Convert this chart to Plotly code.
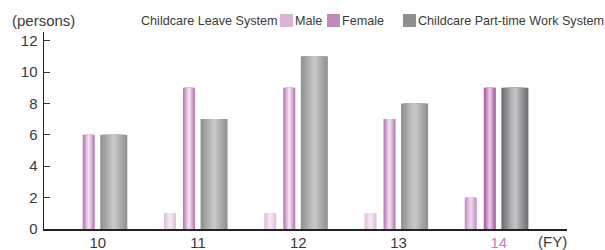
import plotly.graph_objects as go

# ---------------- data ----------------
years = ["10", "11", "12", "13", "14"]
leave_male = [0, 1, 1, 1, 2]
leave_female = [6, 9, 9, 7, 9]
parttime = [6, 7, 11, 8, 9]
y_ticks = [0, 2, 4, 6, 8, 10, 12]

# ---------------- styling ----------------
W, H = 605, 250
ML, MR, MT, MB = 44, 38, 32, 21
PW, PH = W - ML - MR, H - MT - MB
FONT = "Liberation Sans, Arial, sans-serif"
TXT = "#3a3a3a"
HIGHLIGHT = "#d47ab8"

def px_x(p):
    return (p - ML) / PW

def px_y(p):
    return (H - MB - p) / PH

def mix(c1, c2, t):
    return "rgb(%d,%d,%d)" % tuple(round(a + (b - a) * t) for a, b in zip(c1, c2))

# (edge, centre) colours: normal years and highlighted last year
styles = {
    "male": dict(off=-0.34, w=0.12,
                 normal=((224, 192, 222), (245, 232, 244)),
                 last=((198, 146, 194), (238, 214, 236))),
    "female": dict(off=-0.15, w=0.12,
                   normal=((186, 126, 181), (242, 224, 241)),
                   last=((166, 94, 158), (234, 198, 230))),
    "part": dict(off=0.025, w=0.27,
                 normal=((148, 148, 148), (198, 198, 198)),
                 last=((116, 116, 120), (192, 192, 194))),
}
series = [("male", leave_male), ("female", leave_female), ("part", parttime)]

fracs = [1.0, 0.82, 0.64, 0.48, 0.32, 0.16]
xs = list(range(len(years)))

fig = go.Figure()
for key, vals in series:
    st = styles[key]
    for k, f in enumerate(fracs):
        t = k / (len(fracs) - 1)
        cols = []
        for i in range(len(years)):
            e, c = st["last"] if i == len(years) - 1 else st["normal"]
            cols.append(mix(e, c, t))
        fig.add_trace(go.Bar(
            x=xs, y=vals,
            width=st["w"] * f,
            offset=st["off"] + st["w"] * (1 - f) / 2,
            marker=dict(color=cols, line=dict(width=0)),
            showlegend=False, hoverinfo="skip",
        ))

ticktext = years[:-1] + ['<span style="color:%s">%s</span>' % (HIGHLIGHT, years[-1])]

fig.update_layout(
    width=W, height=H,
    margin=dict(l=ML, r=MR, t=MT, b=MB, pad=0, autoexpand=False),
    barmode="overlay",
    plot_bgcolor="white", paper_bgcolor="white",
    font=dict(family=FONT, size=15, color=TXT),
    showlegend=False,
    xaxis=dict(
        range=[-0.536, 4.68], tickmode="array", tickvals=xs, ticktext=ticktext,
        showgrid=False, zeroline=False, showline=True, linecolor="#222", linewidth=1.5,
        ticks="", tickfont=dict(size=15, color=TXT), fixedrange=True, automargin=False,
        ticklabelstandoff=-1,
    ),
    yaxis=dict(
        range=[0, 12.55], tickmode="array", tickvals=y_ticks,
        showgrid=False, zeroline=False, showline=True, linecolor="#222", linewidth=1.5,
        ticks="inside", ticklen=6, tickcolor="#333", tickwidth=1,
        tickfont=dict(size=15, color=TXT), ticklabelstandoff=2, fixedrange=True,
        automargin=False,
    ),
)

LEG = 12.6
ann = [
    dict(text="(persons)", x=px_x(43), y=px_y(21), xanchor="center", yanchor="middle", size=15),
    dict(text="Childcare Leave System", x=px_x(140), y=px_y(20.5), xanchor="left", yanchor="middle", size=LEG),
    dict(text="Male", x=px_x(294), y=px_y(20.5), xanchor="left", yanchor="middle", size=LEG),
    dict(text="Female", x=px_x(341), y=px_y(20.5), xanchor="left", yanchor="middle", size=LEG),
    dict(text="Childcare Part-time Work System", x=px_x(417), y=px_y(20.5), xanchor="left", yanchor="middle", size=LEG),
    dict(text="(FY)", x=px_x(552), y=px_y(241.5), xanchor="center", yanchor="middle", size=15),
]
for a in ann:
    size = a.pop("size")
    fig.add_annotation(xref="paper", yref="paper", showarrow=False,
                       borderpad=0, font=dict(family=FONT, size=size, color=TXT), **a)

legend_boxes = [(280, "rgb(216,180,214)"), (327, "rgb(192,138,187)"), (403, "rgb(142,142,144)")]
for x0, col in legend_boxes:
    fig.add_shape(type="rect", xref="paper", yref="paper",
                  x0=px_x(x0), x1=px_x(x0 + 13), y0=px_y(27), y1=px_y(14),
                  fillcolor=col, line=dict(width=0))

fig.write_html(
    "out.html",
    config={"displayModeBar": False, "staticPlot": True},
    post_script="document.body.style.margin='0';document.body.style.overflow='hidden';",
)
